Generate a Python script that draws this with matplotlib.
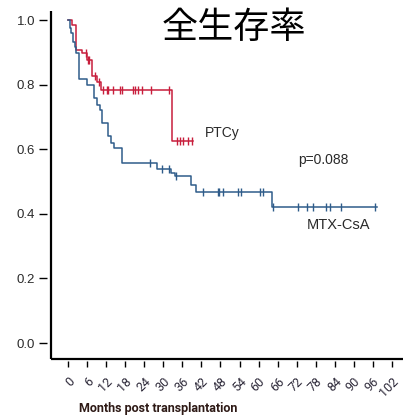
import numpy as np
import matplotlib
matplotlib.use("Agg")
import matplotlib.pyplot as plt
import matplotlib.transforms as mtransforms

# --- data ---
# PTCy arm: step times (months) and survival after each step
ptcy_t = [0, 1.26, 2.4, 4.2, 6.0, 7.6, 9.2, 10.3, 32.6]
ptcy_s = [1.0, 0.985, 0.909, 0.897, 0.876, 0.827, 0.809, 0.783, 0.627]
ptcy_end = 39.2
ptcy_cens = [5.6, 6.2, 6.5, 8.3, 9.8, 11.0, 12.1, 12.6, 14.2, 16.3, 16.8,
             20.3, 21.0, 22.1, 23.2, 26.0, 31.9, 34.2, 35.2, 36.3, 37.9, 38.9]

# MTX-CsA arm
mtx_t = [0, 0.6, 0.85, 1.6, 2.1, 2.6, 3.4, 5.8, 8.2, 9.0, 10.0, 10.8, 12.6,
         13.4, 14.4, 17.0, 27.9, 32.4, 33.7, 38.7, 40.3, 64.2]
mtx_s = [1.0, 0.975, 0.959, 0.933, 0.917, 0.897, 0.819, 0.799, 0.760, 0.737,
         0.721, 0.680, 0.641, 0.620, 0.603, 0.558, 0.538, 0.527, 0.517, 0.491,
         0.468, 0.422]
mtx_end = 97.3
mtx_cens = [25.8, 29.5, 31.9, 34.0, 42.4, 47.1, 47.6, 48.7, 53.6, 54.4, 60.5,
            61.5, 64.5, 72.4, 75.2, 77.3, 81.3, 82.4, 86.0, 96.8]

xticks = list(range(0, 103, 6))
yticks = [0.0, 0.2, 0.4, 0.6, 0.8, 1.0]

red = "#c81e3c"
blue = "#2f5c8a"
txt = "#2a2a2a"

fig = plt.figure(figsize=(4.03, 4.20), dpi=100)
ax = fig.add_axes([0.1166, 0.1393, 0.876, 0.8274])


def surv_at(times, surv, t):
    idx = np.searchsorted(times, t, side="right") - 1
    return np.asarray(surv)[idx]


for t, s, end, cens, c in [(ptcy_t, ptcy_s, ptcy_end, ptcy_cens, red),
                           (mtx_t, mtx_s, mtx_end, mtx_cens, blue)]:
    tt = list(t) + [end]
    ss = list(s) + [s[-1]]
    ax.step(tt, ss, where="post", color=c, lw=1.1)
    ax.plot(cens, surv_at(t, s, cens), ls="none", marker="|", ms=5.5,
            mew=1.0, color=c)

ax.set_xlim(-6.7, 104.6)
ax.set_ylim(-0.057, 1.019)

for sp in ax.spines.values():
    sp.set_visible(False)

# axis lines drawn slightly detached from the tick marks
off_x = mtransforms.ScaledTranslation(4.5 / 100, 0, fig.dpi_scale_trans)
off_y = mtransforms.ScaledTranslation(0, 2.5 / 100, fig.dpi_scale_trans)
ax.plot([0, 0], [0, 1], transform=ax.transAxes + off_x + off_y,
        color="black", lw=1.6, clip_on=False, solid_capstyle="butt")
ax.plot([0, 1], [0, 0], transform=ax.transAxes + off_x + off_y,
        color="black", lw=1.6, clip_on=False, solid_capstyle="butt")

ax.set_yticks(yticks)
ax.set_yticklabels([f"{v:.1f}" for v in yticks], fontsize=9.5, color=txt,
                   family="Liberation Sans")
ax.set_xticks(xticks)
ax.set_xticklabels([str(v) for v in xticks], rotation=45, ha="right",
                   rotation_mode="anchor", fontsize=9, color="#2e2a3a",
                   family="Roboto")
ax.tick_params(axis="y", length=5.5, width=1.0, pad=3, color="black")
ax.tick_params(axis="x", length=4.5, width=1.0, pad=5, color="black")

ax.set_xlabel("Months post transplantation", family="Roboto",
              fontweight="bold", fontsize=9, color="#2e1a16",
              x=0.314, labelpad=2)

ax.text(43.1, 0.650, "PTCy", fontsize=10, color=txt, va="center",
        family="Liberation Sans")
ax.text(72.4, 0.567, "p=0.088", fontsize=10, color=txt, va="center",
        family="Liberation Sans")
ax.text(75.3, 0.365, "MTX-CsA", fontsize=10.5, color=txt, va="center",
        family="Liberation Sans")

fig.text(0.581, 0.933, "全生存率", fontsize=26, color="black", ha="center",
         va="center", family=["Noto Sans CJK JP", "DejaVu Sans"])

fig.savefig("out.png", dpi=100)
